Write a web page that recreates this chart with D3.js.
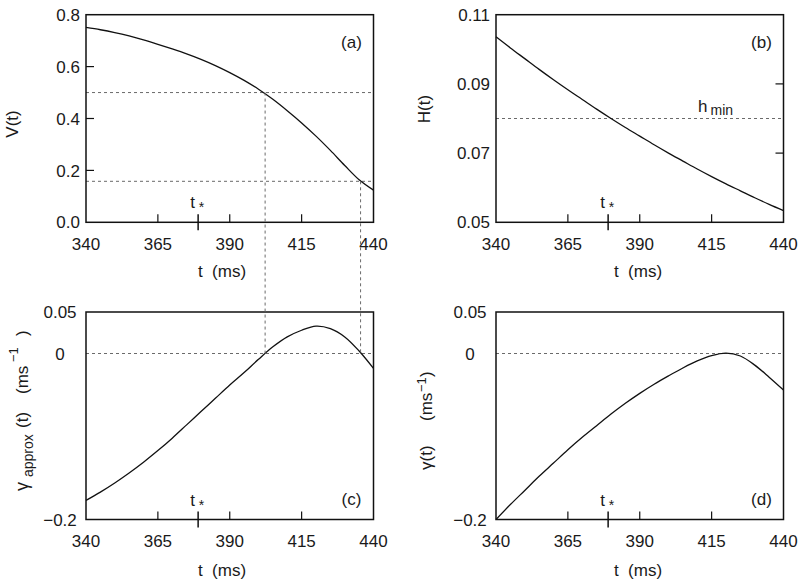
<!DOCTYPE html>
<html>
<head>
<meta charset="utf-8">
<script src="https://cdn.jsdelivr.net/npm/d3@7"></script>
<style>
  html, body { margin: 0; padding: 0; background: #fff; }
  svg { display: block; font-family: "Liberation Sans", Arial, Helvetica, sans-serif; }
  text { fill: #1a1a1a; }
</style>
</head>
<body>
<svg id="chart" width="800" height="585"></svg>
<script>
// ---------- data ----------
const tValues = [340,345,350,355,360,365,370,375,380,385,390,395,400,405,410,415,420,425,430,435,440];
const vValues = [0.751,0.742,0.731,0.718,0.703,0.686,0.668,0.649,0.628,0.604,0.577,0.547,0.513,0.474,0.430,0.383,0.332,0.277,0.219,0.164,0.124];
const hValues = [0.1036,0.1004,0.0973,0.0942,0.0912,0.0883,0.0855,0.0827,0.0800,0.0774,0.0749,0.0724,0.0700,0.0677,0.0654,0.0632,0.0611,0.0591,0.0571,0.0552,0.0534];
const gammaApproxValues = [-0.177,-0.167,-0.156,-0.144,-0.131,-0.117,-0.102,-0.086,-0.070,-0.054,-0.038,-0.023,-0.007,0.008,0.020,0.028,0.033,0.030,0.020,0.003,-0.018];
const gammaValues = [-0.200,-0.182,-0.165,-0.148,-0.132,-0.116,-0.101,-0.087,-0.073,-0.060,-0.048,-0.037,-0.027,-0.0175,-0.0090,-0.0025,0.0005,-0.0030,-0.0140,-0.0285,-0.044];

const xTicks = [340,365,390,415,440];
const tStar = 379;
const vTicks = [0.0,0.2,0.4,0.6,0.8];
const vTickLabels = ["0.0","0.2","0.4","0.6","0.8"];
const hTicks = [0.05,0.07,0.09,0.11];
const hTickLabels = ["0.05","0.07","0.09","0.11"];
const gTicks = [0.05,0,-0.2];
const gTickLabels = ["0.05","0","\u22120.2"];
const vLevels = [0.5,0.158];        // dashed levels in (a)
const crossTimes = [402.3,435.5];    // where gamma_approx = 0
const hMin = 0.08;

// ---------- layout ----------
const svg = d3.select("#chart");
const colX = [[86,373.5],[496,783.5]];
const rowY = [[14.7,222.3],[312,519.5]];
const FS = 17;

const xL = d3.scaleLinear().domain([340,440]).range(colX[0]);
const xR = d3.scaleLinear().domain([340,440]).range(colX[1]);
const yA = d3.scaleLinear().domain([0,0.8]).range([rowY[0][1],rowY[0][0]]);
const yB = d3.scaleLinear().domain([0.05,0.11]).range([rowY[0][1],rowY[0][0]]);
const yC = d3.scaleLinear().domain([-0.2,0.05]).range([rowY[1][1],rowY[1][0]]);
const yD = d3.scaleLinear().domain([-0.2,0.05]).range([rowY[1][1],rowY[1][0]]);

const dashStyle = sel => sel.attr("stroke","#6a6a6a").attr("stroke-width",1).attr("stroke-dasharray","3,3").attr("fill","none");

function panel(x, y, values, opts) {
  const g = svg.append("g");
  const [x0,x1] = x.range();
  const [y1,y0] = y.range();
  (opts.hLines||[]).forEach(v => {
    g.append("line").attr("x1",x0).attr("x2",x1).attr("y1",y(v)).attr("y2",y(v)).call(dashStyle);
  });
  const data = tValues.map((t,i)=>[t,values[i]]);
  g.append("path").datum(data)
    .attr("d", d3.line().x(d=>x(d[0])).y(d=>y(d[1])).curve(d3.curveCatmullRom.alpha(0.5)))
    .attr("fill","none").attr("stroke","#111").attr("stroke-width",1.3);
  g.append("rect").attr("x",x0).attr("y",y0).attr("width",x1-x0).attr("height",y1-y0)
    .attr("fill","none").attr("stroke","#111").attr("stroke-width",1.5);
  xTicks.slice(1,-1).forEach(t => {
    g.append("line").attr("x1",x(t)).attr("x2",x(t)).attr("y1",y1).attr("y2",y1-8).attr("stroke","#111").attr("stroke-width",1.2);
  });
  g.append("line").attr("x1",x(tStar)).attr("x2",x(tStar)).attr("y1",y1-8).attr("y2",y1+8).attr("stroke","#111").attr("stroke-width",1.5);
  const ts = g.append("text").attr("x",x(tStar)-8).attr("y",y1-14).attr("font-size",FS);
  ts.append("tspan").text("t");
  ts.append("tspan").attr("dx",4).attr("dy",4).attr("font-size",14).text("*");
  xTicks.forEach(t => {
    g.append("text").attr("x",x(t)).attr("y",y1+opts.xLabelOff).attr("text-anchor","middle").attr("font-size",FS).text(t);
  });
  g.append("text").attr("x",opts.xTitleX).attr("y",y1+opts.xTitleOff).attr("text-anchor","middle").attr("font-size",FS)
    .attr("xml:space","preserve").text("t  (ms)");
  opts.yTicks.forEach((v,i) => {
    g.append("text").attr("x",opts.yLabelX).attr("y",y(v)).attr("dy","0.36em")
      .attr("text-anchor",opts.yAnchor).attr("font-size",FS).text(opts.yTickLabels[i]);
  });
  (opts.yMarks||[]).forEach(v => {
    const xs = opts.yMarkSide === "right" ? x1 : x0;
    const dir = opts.yMarkSide === "right" ? -1 : 1;
    g.append("line").attr("x1",xs).attr("x2",xs+dir*8).attr("y1",y(v)).attr("y2",y(v)).attr("stroke","#111").attr("stroke-width",1.2);
  });
  g.append("text").attr("x",x1-22).attr("y",opts.letterY).attr("text-anchor","middle").attr("font-size",FS).text(opts.letter);
  return g;
}

panel(xL, yA, vValues, {
  hLines: vLevels, xLabelOff: 28, xTitleOff: 55, xTitleX: 222,
  yTicks: vTicks, yTickLabels: vTickLabels, yLabelX: 80, yAnchor: "end",
  yMarks: [0.2,0.4,0.6], yMarkSide: "left", letter: "(a)", letterY: 48
});
panel(xR, yB, hValues, {
  hLines: [hMin], xLabelOff: 28, xTitleOff: 55, xTitleX: 638,
  yTicks: hTicks, yTickLabels: hTickLabels, yLabelX: 490, yAnchor: "end",
  yMarks: [0.07,0.09], yMarkSide: "right", letter: "(b)", letterY: 48
});
panel(xL, yC, gammaApproxValues, {
  hLines: [0], xLabelOff: 27, xTitleOff: 56, xTitleX: 222,
  yTicks: gTicks, yTickLabels: gTickLabels, yLabelX: 60, yAnchor: "middle",
  letter: "(c)", letterY: 505
});
panel(xR, yD, gammaValues, {
  hLines: [0], xLabelOff: 27, xTitleOff: 56, xTitleX: 638,
  yTicks: gTicks, yTickLabels: gTickLabels, yLabelX: 470, yAnchor: "middle",
  letter: "(d)", letterY: 505
});

// vertical dashed connectors from (a) to (c)
crossTimes.forEach((t,i) => {
  svg.append("line").attr("x1",xL(t)).attr("x2",xL(t)).attr("y1",yA(vLevels[i])).attr("y2",yC(0)).call(dashStyle);
});

// h_min label
const hm = svg.append("text").attr("x",698).attr("y",yB(hMin)-7).attr("font-size",FS);
hm.append("tspan").text("h");
hm.append("tspan").attr("dx",3).attr("dy",3).attr("font-size",14).text("min");

// y axis titles (rotated)
function rotText(x, y, size) {
  return svg.append("text").attr("transform",`translate(${x},${y}) rotate(-90)`).attr("font-size",size);
}
rotText(18,124,FS).attr("text-anchor","middle").text("V(t)");
rotText(430,109,FS).attr("text-anchor","middle").text("H(t)");

// (c) label: pieces placed along the rotated baseline
const lc = rotText(28,491,FS);
lc.append("tspan").attr("x",0).attr("y",0).attr("font-size",18).text("\u03b3");
lc.append("tspan").attr("x",14).attr("y",5).attr("font-size",14).text("approx");
lc.append("tspan").attr("x",63).attr("y",0).text("(t)");
lc.append("tspan").attr("x",97).attr("y",0).text("(ms");
lc.append("tspan").attr("x",129).attr("y",-10).attr("font-size",13).text("\u22121");
lc.append("tspan").attr("x",155).attr("y",0).text(")");

// (d) label
const ld = rotText(432,470,FS);
ld.append("tspan").attr("x",0).attr("y",0).text("\u03b3(t)");
ld.append("tspan").attr("x",49).attr("y",0).text("(ms");
ld.append("tspan").attr("x",78).attr("y",-6).attr("font-size",13).text("\u22121");
ld.append("tspan").attr("x",93).attr("y",0).text(")");
</script>
</body>
</html>
